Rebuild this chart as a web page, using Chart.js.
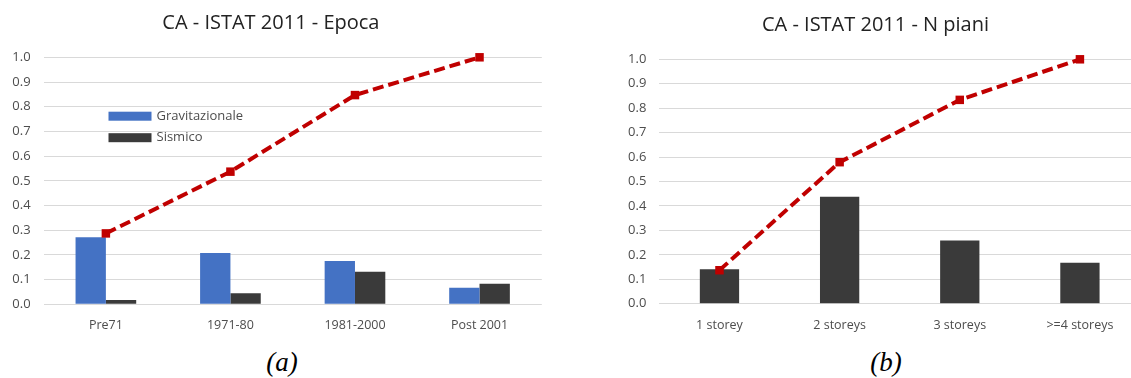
<!DOCTYPE html>
<html>
<head>
<meta charset="utf-8">
<script src="https://cdn.jsdelivr.net/npm/chart.js@4.4.1/dist/chart.umd.min.js"></script>
<style>
  html, body { margin: 0; padding: 0; background: #ffffff; overflow: hidden; width: 1131px; height: 378px; }
  .box { position: absolute; top: 0; height: 345px; }
  .cap { position: absolute; top: 349px; width: 100px; text-align: center; font-family: "Liberation Serif", "DejaVu Serif", serif; font-style: italic; font-size: 27px; line-height: 27px; color: #000; }
</style>
</head>
<body>
<div class="box" id="boxA" style="left:0px;width:563px;"><canvas id="chartA"></canvas></div>
<div class="box" id="boxB" style="left:611px;width:550px;"><canvas id="chartB"></canvas></div>
<div class="cap" style="left:232px;">(a)</div>
<div class="cap" style="left:836px;">(b)</div>
<script>
// ---- Data ----
const epocaLabels = ["Pre71", "1971-80", "1981-2000", "Post 2001"];
const epocaGravitazionale = [0.271, 0.208, 0.175, 0.067];
const epocaSismico = [0.017, 0.045, 0.132, 0.083];
const epocaCumulata = [0.287, 0.537, 0.847, 1.0];

const pianiLabels = ["1 storey", "2 storeys", "3 storeys", ">=4 storeys"];
const pianiSismico = [0.141, 0.438, 0.259, 0.168];
const pianiCumulata = [0.137, 0.579, 0.834, 1.0];

const yTicks = ["0.0","0.1","0.2","0.3","0.4","0.5","0.6","0.7","0.8","0.9","1.0"];

const titleA = "CA - ISTAT 2011 - Epoca";
const titleB = "CA - ISTAT 2011 - N piani";

// ---- Styles ----
const FONT = "'Open Sans', 'Noto Sans', sans-serif";
const BLUE = "#4472C4";
const DARK = "#3A3A3A";
const RED = "#C00000";
const GRID = "#D9D9D9";
const TICK = "#4D4D4D";

// custom legend drawn inside plot (like the Excel reference)
const insideLegend = {
  id: 'insideLegend',
  afterDraw(chart, args, opts) {
    if (!opts || !opts.show) return;
    const ctx = chart.ctx;
    ctx.save();
    ctx.font = "13px " + FONT;
    ctx.textBaseline = "middle";
    let y = opts.y;
    chart.data.datasets.forEach(ds => {
      if (ds.type === 'line') return;
      ctx.fillStyle = ds.backgroundColor;
      ctx.fillRect(opts.x, y - 4.5, 43, 9);
      ctx.fillStyle = TICK;
      ctx.fillText(ds.label, opts.x + 48, y);
      y += opts.step;
    });
    ctx.restore();
  }
};

function makeOptions(title, titlePadTop, titlePadBottom, yWidth, xHeight, padRight, catPct, legendOpts) {
  return {
    responsive: true,
    maintainAspectRatio: false,
    animation: false,
    layout: { padding: { left: 0, right: padRight, top: 0, bottom: 0 } },
    plugins: {
      legend: { display: false },
      tooltip: { enabled: false },
      title: {
        display: true,
        text: title,
        color: "#222222",
        font: { family: FONT, size: 20, weight: 'normal', lineHeight: 1.2 },
        padding: { top: titlePadTop, bottom: titlePadBottom }
      },
      insideLegend: legendOpts
    },
    datasets: { bar: { categoryPercentage: catPct, barPercentage: 1.0 } },
    scales: {
      x: {
        grid: { display: false, drawTicks: false },
        border: { display: false },
        ticks: { color: TICK, font: { family: FONT, size: 12.5 }, padding: 14, maxRotation: 0 },
        afterFit(scale) { scale.height = xHeight; }
      },
      y: {
        min: 0, max: 1,
        grid: { color: GRID, lineWidth: 1, drawTicks: false },
        border: { display: false },
        ticks: {
          stepSize: 0.1,
          color: TICK,
          font: { family: FONT, size: 13 },
          padding: 13,
          callback: (v) => yTicks[Math.round(v * 10)]
        },
        afterFit(scale) { scale.width = yWidth; }
      }
    }
  };
}

function lineDataset(label, data) {
  return {
    type: 'line',
    label: label,
    data: data,
    borderColor: RED,
    backgroundColor: RED,
    borderWidth: 4,
    borderDash: [11, 5],
    pointStyle: 'rect',
    pointRadius: 6,
    pointBackgroundColor: RED,
    pointBorderWidth: 0,
    tension: 0,
    fill: false,
    clip: false,
    order: 0
  };
}

new Chart(document.getElementById('chartA'), {
  type: 'bar',
  data: {
    labels: epocaLabels,
    datasets: [
      lineDataset("Cumulata", epocaCumulata),
      { label: "Gravitazionale", data: epocaGravitazionale, backgroundColor: BLUE, order: 1 },
      { label: "Sismico", data: epocaSismico, backgroundColor: DARK, order: 1 }
    ]
  },
  options: makeOptions(titleA, 11, 22.3, 43.6, 40.7, 21.2, 0.487, { show: true, x: 108.5, y: 116.2, step: 21.5 }),
  plugins: [insideLegend]
});

new Chart(document.getElementById('chartB'), {
  type: 'bar',
  data: {
    labels: pianiLabels,
    datasets: [
      lineDataset("Cumulata", pianiCumulata),
      { label: "Sismico", data: pianiSismico, backgroundColor: DARK, order: 1 }
    ]
  },
  options: makeOptions(titleB, 13, 22.3, 48.4, 41.3, 21, 0.327, { show: false }),
  plugins: [insideLegend]
});
</script>
</body>
</html>
